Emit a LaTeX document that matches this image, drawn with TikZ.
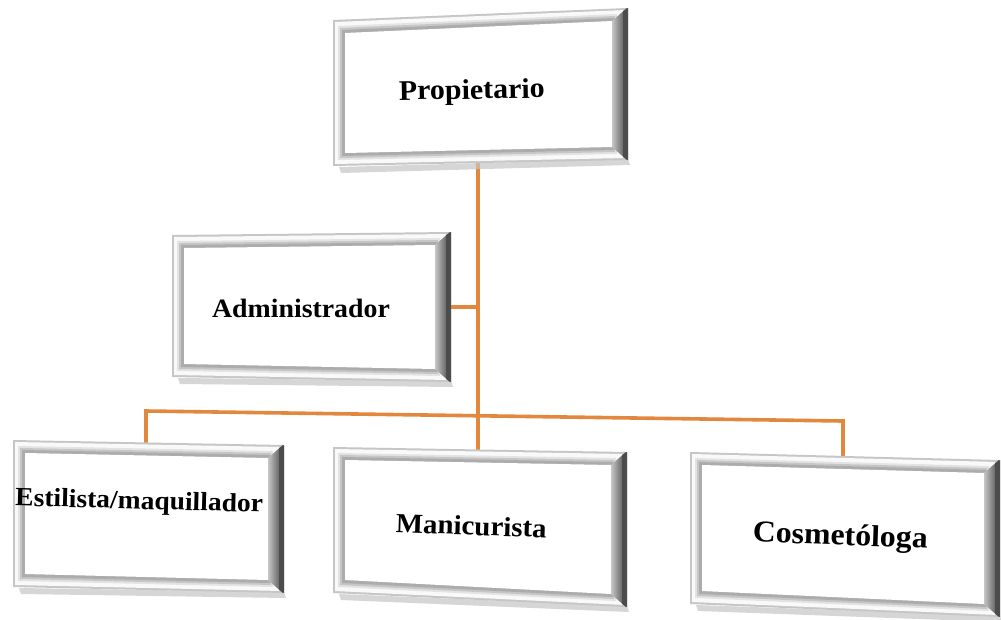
\documentclass[tikz,border=0pt]{standalone}
\usepackage{fontspec}
\setmainfont{Liberation Serif}[FakeStretch=1.05]
\usetikzlibrary{calc}
\definecolor{connorange}{RGB}{226,135,62}
\tikzset{
  conn/.style={draw=connorange, line width=3.6pt, line join=miter},
  lbl/.style={font=\bfseries, text=black, inner sep=0pt, anchor=base},
}
\newcommand\bevelbox[5]{%
  \coordinate (#1tl) at #2; \coordinate (#1tr) at #3;
  \coordinate (#1br) at #4; \coordinate (#1bl) at #5;
  \fill[gray!45, opacity=.7] ($(#1bl)+(6,1)$) -- ($(#1br)+(0,-1)$) -- ($(#1br)+(2,5)$) -- ($(#1bl)+(8,7)$) -- cycle;
  \fill[gray!45] (#1tl) -- (#1tr) -- (#1br) -- (#1bl) -- cycle;
  \fill[gray!5] ($(#1tl)+(2,2)$) -- ($(#1tr)+(-2,2)$) -- ($(#1br)+(-2,-2)$) -- ($(#1bl)+(2,-2)$) -- cycle;
  \fill[gray!22] ($(#1tl)+(5,6)$) -- ($(#1tr)+(-11,6)$) -- ($(#1br)+(-11,-6)$) -- ($(#1bl)+(5,-6)$) -- cycle;
  \fill[gray!45] ($(#1tl)+(7,8)$) -- ($(#1tr)+(-13,8)$) -- ($(#1br)+(-13,-8)$) -- ($(#1bl)+(7,-8)$) -- cycle;
  \fill[gray!65] ($(#1tl)+(9,10)$) -- ($(#1tr)+(-14,10)$) -- ($(#1br)+(-14,-10)$) -- ($(#1bl)+(9,-10)$) -- cycle;
  \fill[white] ($(#1tl)+(12,13)$) -- ($(#1tr)+(-16,13)$) -- ($(#1br)+(-16,-13)$) -- ($(#1bl)+(12,-13)$) -- cycle;
  \shade[left color=gray!45, right color=black!72] ($(#1tr)+(-16,13)$) -- ($(#1tr)+(-1,0)$) -- ($(#1br)+(-1,0)$) -- ($(#1br)+(-16,-13)$) -- cycle;
  \fill[black!70] ($(#1tr)+(-5,3)$) -- (#1tr) -- (#1br) -- ($(#1br)+(-5,-3)$) -- cycle;
}
\begin{document}
\begin{tikzpicture}[x=1pt,y=-1pt]
\useasboundingbox (0,0) rectangle (1001,619);
\fill[white] (0,0) rectangle (1001,619);
% connector anchor points
\coordinate (propBot) at (478,160);
\coordinate (maniTop) at (478,452);
\coordinate (adminR) at (446,307);
\coordinate (adminJ) at (478,307);
\coordinate (busL) at (146,411);
\coordinate (busR) at (843,421);
\coordinate (estTop) at (146,448);
\coordinate (cosTop) at (843,460);
% connectors
\draw[conn] (propBot) -- (maniTop);
\draw[conn] (adminR) -- (adminJ);
\draw[conn] (estTop) -- (busL) -- (busR) -- (cosTop);
% boxes
\bevelbox{p}{(333,20)}{(628,8)}{(628,160)}{(333,166)}
\bevelbox{a}{(172,235)}{(451,232)}{(451,382)}{(172,377)}
\bevelbox{e}{(13,440)}{(284,445)}{(284,593)}{(13,587)}
\bevelbox{m}{(333,447)}{(627,452)}{(627,607)}{(333,593)}
\bevelbox{c}{(690,452)}{(1000,460)}{(1000,617)}{(690,604)}
% labels
\node[lbl, font=\fontsize{28.5}{31}\selectfont\bfseries, rotate=1] (prop) at (472,99) {Propietario};
\node[lbl, font=\fontsize{26.5}{30}\selectfont\bfseries] (admin) at (301,317) {Administrador};
\node[lbl, font=\fontsize{26.2}{30}\selectfont\bfseries, rotate=-1.5] (est) at (139,509) {Estilista/maquillador};
\node[lbl, font=\fontsize{27.5}{30}\selectfont\bfseries, rotate=-2] (mani) at (471,535) {Manicurista};
\node[lbl, font=\fontsize{30.3}{33}\selectfont\bfseries, rotate=-2] (cosm) at (840,545) {Cosmetóloga};
\end{tikzpicture}
\end{document}
